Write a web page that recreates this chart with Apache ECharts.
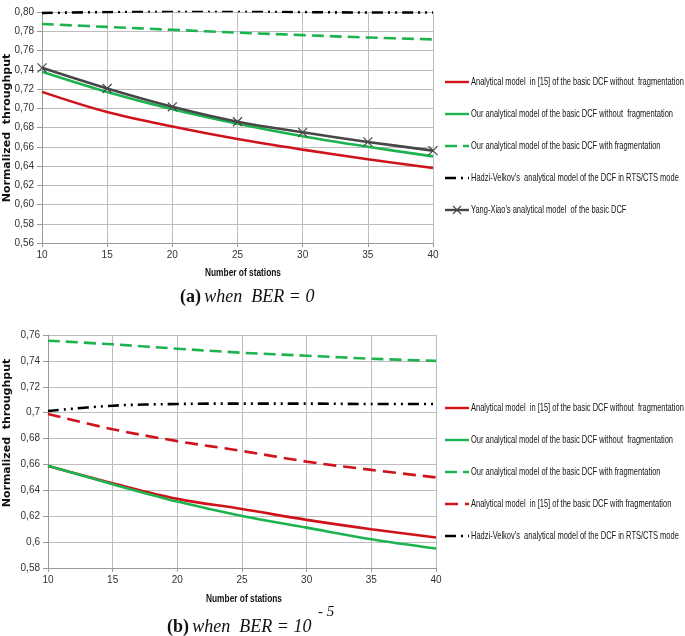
<!DOCTYPE html>
<html>
<head>
<meta charset="utf-8">
<script src="https://cdn.jsdelivr.net/npm/echarts@6/dist/echarts.min.js"></script>
<style>
html,body{margin:0;padding:0;background:#fff;}
#chart{width:685px;height:636px;}
</style>
</head>
<body>
<div id="chart"></div>
<script>
// ---------- data ----------
const stations = [10, 15, 20, 25, 30, 35, 40];

// (a) BER = 0
const aRed      = [0.717, 0.696, 0.681, 0.668, 0.657, 0.647, 0.638];
const aGreen    = [0.738, 0.717, 0.699, 0.684, 0.671, 0.660, 0.650];
const aGreenDash= [0.7875, 0.7845, 0.7815, 0.7785, 0.776, 0.7735, 0.7715];
const aBlack    = [0.799, 0.800, 0.801, 0.801, 0.800, 0.7995, 0.7995];
const aGray     = [0.742, 0.7205, 0.7015, 0.686, 0.675, 0.665, 0.656];

// (b) BER = 10^-5
const bRed      = [0.6588, 0.6455, 0.6334, 0.6256, 0.6172, 0.610, 0.6036];
const bGreen    = [0.659, 0.6447, 0.6313, 0.6202, 0.6112, 0.6022, 0.595];
const bGreenDash= [0.7556, 0.7528, 0.7494, 0.7463, 0.744, 0.7417, 0.740];
const bRedDash  = [0.699, 0.6872, 0.678, 0.6704, 0.6622, 0.6558, 0.650];
const bBlack    = [0.7013, 0.7054, 0.7067, 0.707, 0.707, 0.7067, 0.7067];

const nameRed   = 'Analytical model  in [15] of the basic DCF without  fragmentation';
const nameGreen = 'Our analytical model of the basic DCF without  fragmentation';
const nameGreenDash = 'Our analytical model of the basic DCF with fragmentation';
const nameRedDash = 'Analytical model  in [15] of the basic DCF with fragmentation';
const nameBlack = "Hadzi-Velkov's  analytical model of the DCF in RTS/CTS mode";
const nameGray  = "Yang-Xiao's analytical model  of the basic DCF";

const legendA = [nameRed, nameGreen, nameGreenDash, nameBlack, nameGray];
const legendB = [nameRed, nameGreen, nameGreenDash, nameRedDash, nameBlack];

const xLabels = ['10','15','20','25','30','35','40'];
const xTitle = 'Number of stations';
const yTitle = 'Normalized  throughput';

// ---------- styles ----------
const RED = '#d0121b', GREEN = '#1db34f', BLACK = '#000000', GRAY = '#474747';
const GRID = '#bdbdbd';
const sans = '"Liberation Sans", Arial, sans-serif';
const dashDotDot = [11, 5, 2, 5, 2, 5];
const dashed = [12, 6];
const dashedRed = [13, 7];

const styleOf = {};
styleOf[nameRed] = {color:RED, dash:null};
styleOf[nameGreen] = {color:GREEN, dash:null};
styleOf[nameGreenDash] = {color:GREEN, dash:dashed};
styleOf[nameRedDash] = {color:RED, dash:dashedRed};
styleOf[nameBlack] = {color:BLACK, dash:dashDotDot};
styleOf[nameGray] = {color:GRAY, dash:null, cross:true};

const mctx = document.createElement('canvas').getContext('2d');
function textW(text, font){ mctx.font = font; return mctx.measureText(text).width; }

const legendFont = '11px ' + sans;
const legendScale = 202 / textW(nameGreen, legendFont);
const titleFont = 'bold 11px ' + sans;
const titleScale = 76 / textW(xTitle, titleFont);

function pairs(vals){ return stations.map((x,i)=>[x, vals[i]]); }

function line(name, vals, idx, extra){
  const s = styleOf[name];
  return Object.assign({
    name, type:'line', xAxisIndex: idx, yAxisIndex: idx,
    data: pairs(vals), smooth: 0.35, symbol:'none', showSymbol:false,
    lineStyle:{color:s.color, width:2.6, type: s.dash || 'solid'}, itemStyle:{color:s.color},
    emphasis:{disabled:true}
  }, extra||{});
}

function xAxisCfg(idx){
  return {
    type:'value', gridIndex: idx, min:10, max:40, interval:5,
    axisLine:{show:true, lineStyle:{color:'#9a9a9a', width:1}},
    axisTick:{show:true, length:4, lineStyle:{color:'#9a9a9a'}},
    axisLabel:{color:'#333', fontFamily: sans, fontSize:10, margin:7,
      formatter: v => xLabels[stations.indexOf(v)] ?? String(v)},
    splitLine:{show:true, lineStyle:{color:GRID, width:1}}
  };
}
function yAxisCfg(idx, min, max, fmt){
  return {
    type:'value', gridIndex: idx, min, max, interval:0.02,
    axisLine:{show:true, lineStyle:{color:'#9a9a9a', width:1}},
    axisTick:{show:true, length:5, lineStyle:{color:'#9a9a9a'}},
    axisLabel:{color:'#333', fontFamily: sans, fontSize:10, margin:8, formatter: fmt},
    splitLine:{show:true, lineStyle:{color:GRID, width:1}}
  };
}
const fmtA = v => v.toFixed(2).replace('.', ',');
const fmtB = v => String(parseFloat(v.toFixed(2))).replace('.', ',');

function legendGraphics(top, names){
  const out = [];
  names.forEach((n, i) => {
    const s = styleOf[n];
    const y = top + 32 * i;
    out.push({type:'line', shape:{x1:445, y1:y, x2:469, y2:y}, silent:true,
      style:{stroke:s.color, lineWidth:2.4, lineDash:s.dash || null}});
    if (s.cross){
      out.push({type:'line', shape:{x1:453, y1:y-4, x2:461, y2:y+4}, silent:true, style:{stroke:s.color, lineWidth:1.1}});
      out.push({type:'line', shape:{x1:453, y1:y+4, x2:461, y2:y-4}, silent:true, style:{stroke:s.color, lineWidth:1.1}});
    }
    out.push({type:'text', x:471, y:y, scaleX:legendScale, silent:true,
      style:{text:n, font:legendFont, fill:'#141414', align:'left', verticalAlign:'middle'}});
  });
  return out;
}

const serif = '"Liberation Serif", "Times New Roman", serif';

const option = {
  animation:false,
  backgroundColor:'#fff',
  grid:[
    {left:42, right:252, top:12, bottom:393},
    {left:48, right:249, top:335, bottom:68}
  ],
  xAxis:[xAxisCfg(0), xAxisCfg(1)],
  yAxis:[yAxisCfg(0, 0.56, 0.80, fmtA), yAxisCfg(1, 0.58, 0.76, fmtB)],
  series:[
    line(nameRed, aRed, 0),
    line(nameGreen, aGreen, 0),
    line(nameGreenDash, aGreenDash, 0),
    line(nameBlack, aBlack, 0),
    line(nameGray, aGray, 0, {
      symbol:'path://M0,0L10,10M10,0L0,10', symbolSize:9, showSymbol:true,
      itemStyle:{color:'rgba(0,0,0,0)', borderColor:GRAY, borderWidth:1.2}
    }),
    line(nameRed, bRed, 1),
    line(nameGreen, bGreen, 1),
    line(nameGreenDash, bGreenDash, 1),
    line(nameRedDash, bRedDash, 1),
    line(nameBlack, bBlack, 1)
  ],
  graphic: [].concat(
    legendGraphics(82, legendA),
    legendGraphics(408, legendB),
    [
    {type:'text', x:7, y:128, rotation:Math.PI/2, style:{
      text:yTitle, fill:'#111', font:'bold 11px "DejaVu Sans", sans-serif',
      align:'center', verticalAlign:'middle'}},
    {type:'text', x:7, y:433, rotation:Math.PI/2, style:{
      text:yTitle, fill:'#111', font:'bold 11px "DejaVu Sans", sans-serif',
      align:'center', verticalAlign:'middle'}},
    {type:'text', x:243, y:273, scaleX:titleScale, style:{
      text:xTitle, fill:'#111', font:titleFont, align:'center', verticalAlign:'middle'}},
    {type:'text', x:244, y:599, scaleX:titleScale, style:{
      text:xTitle, fill:'#111', font:titleFont, align:'center', verticalAlign:'middle'}},
    {type:'text', x:180, y:297, style:{
      text:'{b|(a)} {i|when  BER = 0}', align:'left', verticalAlign:'middle',
      rich:{
        b:{fontFamily:serif, fontWeight:'bold', fontSize:18, fill:'#111'},
        i:{fontFamily:serif, fontStyle:'italic', fontSize:18, fill:'#111'}
      }}},
    {type:'text', x:167, y:627, style:{
      text:'{b|(b)} {i|when  BER = 10}', align:'left', verticalAlign:'middle',
      rich:{
        b:{fontFamily:serif, fontWeight:'bold', fontSize:18, fill:'#111'},
        i:{fontFamily:serif, fontStyle:'italic', fontSize:18, fill:'#111'}
      }}},
    {type:'text', x:318, y:612, style:{
      text:'- 5', align:'left', verticalAlign:'middle',
      font:'italic 15px ' + serif, fill:'#111'}}
    ]
  )
};

const chart = echarts.init(document.getElementById('chart'), null, {renderer:'canvas'});
chart.setOption(option);
</script>
</body>
</html>
